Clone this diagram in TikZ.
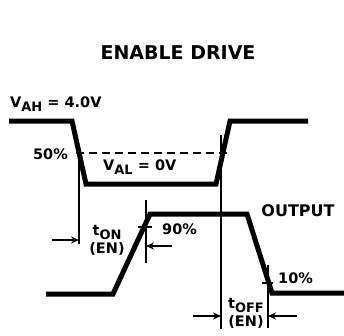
\documentclass[tikz,border=0pt]{standalone}
\usepackage{fontspec}
\setmainfont{DejaVu Sans}
\usetikzlibrary{arrows.meta}
\usetikzlibrary{calc}

\newcommand{\lowtxt}[1]{\raisebox{-4.5pt}{\fontsize{13}{13}\selectfont #1}}

\begin{document}
\begin{tikzpicture}[x=1pt,y=-1pt,
  wave/.style={line width=5pt,line join=miter},
  guide/.style={line width=1.3pt},
  tarrow/.style={line width=1.3pt,-{Stealth[length=8pt,width=7pt]}},
  lbl/.style={font=\bfseries\fontsize{14.5}{18}\selectfont,inner sep=0pt,align=center}
  ]
  \useasboundingbox (0,0) rectangle (344,335);
  \node[font=\bfseries\fontsize{19}{19}\selectfont] (title) at (178,53) {ENABLE DRIVE};

  % input and output waveforms
  \draw[wave] (9,121) -- (72,121) -- (86,184) -- (216,184) -- (230,121) -- (308,121);
  \draw[wave] (46,294) -- (113,294) -- (150,214) -- (247,214) -- (272,293) -- (344,293);

  \coordinate (halfL) at (76,153);
  \coordinate (halfR) at (227,153);
  \draw[guide,dash pattern=on 8pt off 5pt] (halfL) -- (halfR);

  % level marks
  \node[lbl,anchor=west] (vah) at (10,104) {V\lowtxt{AH} = 4.0V};
  \node[lbl,anchor=east] (half) at (68,154) {50\%};
  \node[lbl,anchor=west] (val) at (103,167) {V\lowtxt{AL} = 0V};
  \node[lbl,font=\bfseries\fontsize{16}{16}\selectfont] (outlbl) at (298,211) {OUTPUT};
  \node[lbl,anchor=west] (ninety) at (162,229) {90\%};
  \node[lbl,anchor=west] (ten) at (278,278) {10\%};
  \draw[guide] (138,227) -- (152,227);
  \draw[guide] (262,283) -- (273,283);

  % t_ON
  \coordinate (onA) at (79,153);
  \coordinate (onB) at (146,200);
  \draw[guide] (onA) -- ++(0,91);
  \draw[guide] (onB) -- ++(0,63);
  \coordinate (onTailA) at (52,240);
  \coordinate (onTailB) at (172,246);
  \draw[tarrow] (onTailA) -- (onTailA -| onA);
  \draw[tarrow] (onTailB) -- (onTailB -| onB);
  \node[lbl] (ton) at (107,240) {t\lowtxt{ON}\\(EN)};

  % t_OFF
  \coordinate (offA) at (221,135);
  \coordinate (offB) at (268,265);
  \draw[guide] (offA) -- ++(0,194);
  \draw[guide] (offB) -- ++(0,63);
  \coordinate (offTailA) at (193,316);
  \coordinate (offTailB) at (297,316);
  \draw[tarrow] (offTailA) -- (offTailA -| offA);
  \draw[tarrow] (offTailB) -- (offTailB -| offB);
  \node[lbl] (toff) at (246,313) {t\lowtxt{OFF}\\(EN)};
\end{tikzpicture}
\end{document}
